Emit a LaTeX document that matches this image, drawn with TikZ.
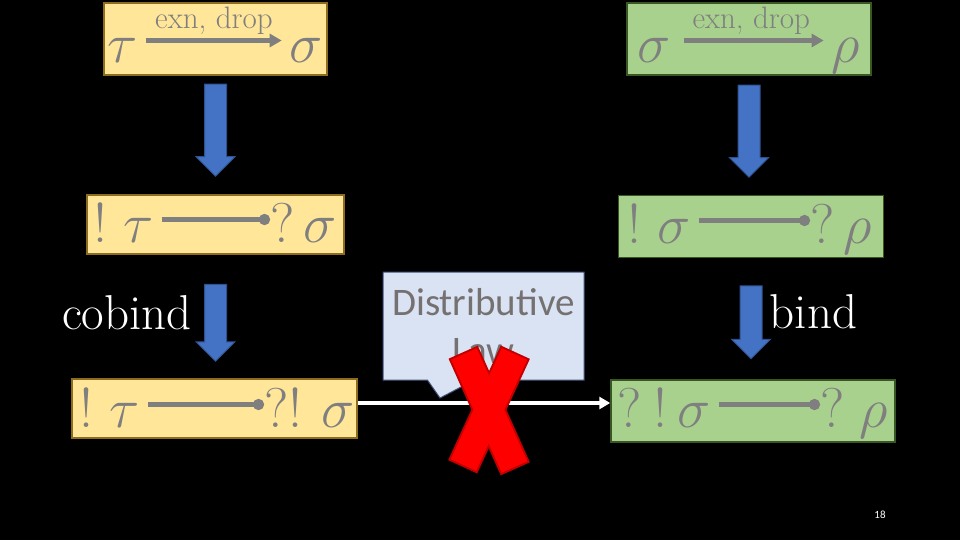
\documentclass[tikz,border=0pt]{standalone}
\usepackage{fix-cm}
\usepackage{fontspec}
\newfontfamily\calibri{Carlito}
\usetikzlibrary{positioning, shapes.arrows, shapes.callouts, arrows.meta}

\definecolor{yfill}{HTML}{FFE699}
\definecolor{yline}{HTML}{8C6D1F}
\definecolor{gfill}{HTML}{A9D18E}
\definecolor{gline}{HTML}{385723}
\definecolor{bfill}{HTML}{4472C4}
\definecolor{bline}{HTML}{2F528F}
\definecolor{cfill}{HTML}{DAE3F3}
\definecolor{cline}{HTML}{41507A}
\definecolor{ctext}{HTML}{767171}
\definecolor{symgray}{HTML}{7F7F7F}
\definecolor{xred}{HTML}{FF0000}
\definecolor{xdark}{HTML}{C00000}

\begin{document}
\begin{tikzpicture}[
        x=1pt, y=-1pt,
        every node/.style={inner sep=0pt},
        ybox/.style={rectangle, draw=yline, fill=yfill, line width=1.5pt},
        gbox/.style={rectangle, draw=gline, fill=gfill, line width=1.5pt},
        sym/.style={text=symgray, font=\fontsize{56}{60}\selectfont,
            text height=56pt, text depth=11pt, anchor=base},
        exn/.style={draw=symgray, line width=4.5pt,
            -{Triangle[length=12pt,width=13pt]}, shorten <=8pt, shorten >=8pt},
        exnlabel/.style={midway, above=4pt, text=symgray, font=\fontsize{31}{33}\selectfont},
        lolli/.style={draw=symgray, line width=4.5pt, -{Circle[length=11pt]}, shorten <=8pt},
        down/.style={single arrow, shape border rotate=270, draw=bline, fill=bfill,
            line width=1pt, inner sep=10.5pt, minimum width=38pt,
            single arrow head extend=8.5pt, single arrow head indent=0pt},
        word/.style={text=white, font=\fontsize{49}{52}\selectfont},
        callout/.style={rectangle callout, fill=cfill, draw=cline, line width=1pt,
            minimum width=201pt, minimum height=108pt, callout pointer width=47pt,
            align=center, text=ctext, font=\calibri\fontsize{39}{48}\selectfont},
    ]
        \fill[black] (0,0) rectangle (960,540);
        \useasboundingbox (0,0) rectangle (960,540);

        % boxes
        \node[ybox, minimum width=223pt, minimum height=72pt] (ytop) at (215.5,39) {};
        \node[ybox, minimum width=257pt, minimum height=59pt] (ymid) at (215.5,224.5) {};
        \node[ybox, minimum width=285pt, minimum height=59pt] (ybot) at (214.5,408.5) {};
        \node[gbox, minimum width=244pt, minimum height=72pt] (gtop) at (749,39) {};
        \node[gbox, minimum width=265pt, minimum height=62pt] (gmid) at (751,226.5) {};
        \node[gbox, minimum width=284pt, minimum height=62pt] (gbot) at (753,411) {};

        % top row
        \node[sym] (tau1) at (123,63) {$\tau$};
        \node[sym] (sig1) at (306.5,63) {$\sigma$};
        \draw[exn] (tau1) -- node[exnlabel] {exn, drop} (sig1);
        \node[sym] (sig2) at (654,63) {$\sigma$};
        \node[sym] (rho1) at (846,63) {$\rho$};
        \draw[exn, shorten <=13pt] (sig2) -- node[exnlabel] {exn, drop} (rho1);

        % middle row
        \node[sym, anchor=base west] (bt1) at (93.5,242) {$!\;\tau$};
        \node[sym, anchor=base west] (qs1) at (270,242) {$?\,\sigma$};
        \draw[lolli] (bt1) -- (qs1);
        \node[sym, anchor=base west] (bs1) at (627.5,243) {$!\;\sigma$};
        \node[sym, anchor=base west] (qr1) at (810,243) {$?\,\rho$};
        \draw[lolli] (bs1) -- (qr1);

        % bottom row
        \node[sym, anchor=base west] (bt2) at (79.5,427) {$!\;\tau$};
        \node[sym, anchor=base west] (qs2) at (264,427) {$?!\mkern6mu\sigma$};
        \draw[lolli] (bt2) -- (qs2);
        \node[sym, anchor=base west] (qbs) at (617,427) {$?\mkern4mu!\,\sigma$};
        \node[sym, anchor=base west] (qr2) at (820,427) {$?\;\rho$};
        \draw[lolli] (qbs) -- (qr2);

        % blue arrows
        \node[down, below=8pt of ytop, minimum height=92pt] (a1) {};
        \node[down, below=29pt of ymid, minimum height=77pt] (a2) {};
        \node[down, below=9pt of gtop, minimum height=92pt] (a3) {};
        \node[down, below=27pt of gmid, minimum height=73pt] (a4) {};
        \node[word, left=12pt of a2, yshift=5pt] (cobind) {cobind};
        \node[word, right=7pt of a4, yshift=5pt] (bind) {bind};

        \draw[white, line width=3.5pt, -{Triangle[length=11pt,width=12pt]}]
            ([yshift=5.5pt]ybot.east) -- ([yshift=5.5pt]ybot.east -| gbot.west);

        \node[callout, callout absolute pointer={(440,398)}] (dist) at (483.5,326)
            {Distributive\\Law};

        % the cross
        \draw[xdark, line width=32pt, shorten <=-2pt, shorten >=-2pt] (464,354) -- (514.5,467);
        \draw[xdark, line width=32pt, shorten <=-2pt, shorten >=-2pt] (514.5,354) -- (463.5,465);
        \draw[xred, line width=28pt] (464,354) -- (514.5,467);
        \draw[xred, line width=28pt] (514.5,354) -- (463.5,465);

        \node[text=white, font=\calibri\fontsize{11}{12}\selectfont] (page) at (880,515) {18};
    \end{tikzpicture}
\end{document}
